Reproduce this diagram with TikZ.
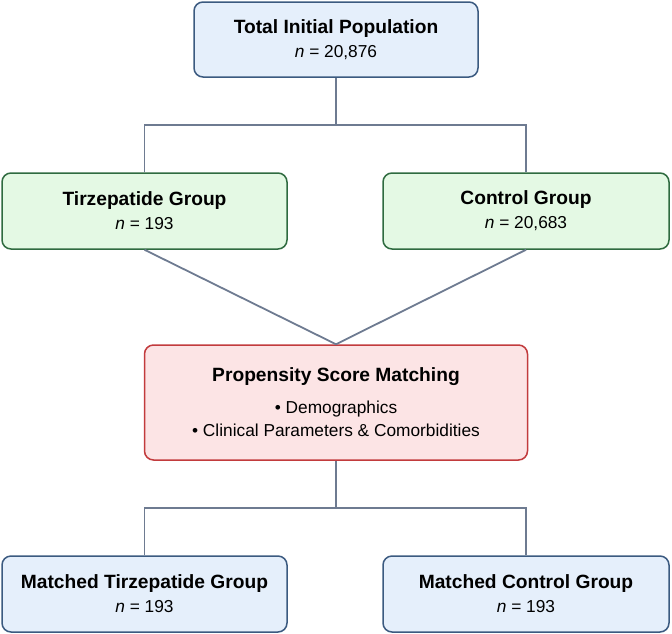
\documentclass[tikz,border=0pt]{standalone}
\usepackage{fontspec}
\setmainfont{Liberation Sans}
\usetikzlibrary{positioning}
\definecolor{blueline}{HTML}{3B5A80}
\definecolor{bluefill}{HTML}{E5EFFB}
\definecolor{greenline}{HTML}{2F6B40}
\definecolor{greenfill}{HTML}{E4F9E4}
\definecolor{redline}{HTML}{C23B3D}
\definecolor{redfill}{HTML}{FCE4E5}
\definecolor{linkgray}{HTML}{6E7B91}
\tikzset{
  box/.style={rounded corners=9pt, line width=1.5pt, align=center,
    inner sep=0pt, minimum width=285pt, minimum height=76pt,
    font=\fontsize{17.3}{23.5}\selectfont},
  bluebox/.style={box, draw=blueline, fill=bluefill},
  greenbox/.style={box, draw=greenline, fill=greenfill},
  redbox/.style={box, draw=redline, fill=redfill},
  link/.style={draw=linkgray, line width=1.8pt}
}
\newcommand{\boxtitle}[1]{{\fontsize{19.2}{23.5}\selectfont\bfseries #1}}
\newcommand{\boxcount}[1]{\textit{n} = #1}

\begin{document}
\begin{tikzpicture}[x=1pt,y=-1pt]
\useasboundingbox (0,0) rectangle (672,633);
% groups
\node[bluebox, minimum width=284pt, minimum height=75pt] (total) at (336,39.5)
  {\boxtitle{Total Initial Population}\\[0.5pt] \boxcount{20,876}};
\node[greenbox] (tirz) at (144.5,211)
  {\boxtitle{Tirzepatide Group}\\[0.5pt] \boxcount{193}};
\node[greenbox, minimum width=286pt] (ctrl) at (526,211)
  {\boxtitle{Control Group}\\[0.5pt] \boxcount{20,683}};
% matching
\node[redbox, minimum width=383pt, minimum height=115pt] (psm) at (336,402.5)
  {\boxtitle{Propensity Score Matching}\\[8pt]
   \textbullet{} Demographics\\
   \textbullet{} Clinical Parameters \& Comorbidities};
\node[bluebox] (mtirz) at (144.5,594)
  {\boxtitle{Matched Tirzepatide Group}\\[0.5pt] \boxcount{193}};
\node[bluebox, minimum width=286pt] (mctrl) at (526,594)
  {\boxtitle{Matched Control Group}\\[0.5pt] \boxcount{193}};
% connectors
\coordinate (split1) at (336,125);
\coordinate (split2) at (336,508);
\draw[link] (total.south) -- (split1);
\draw[link] (tirz.north) |- (split1) -| (ctrl.north);
\draw[link] (tirz.south) -- (psm.north);
\draw[link] (ctrl.south) -- (psm.north);
\draw[link] (psm.south) -- (split2);
\draw[link] (mtirz.north) |- (split2) -| (mctrl.north);
\end{tikzpicture}
\end{document}
